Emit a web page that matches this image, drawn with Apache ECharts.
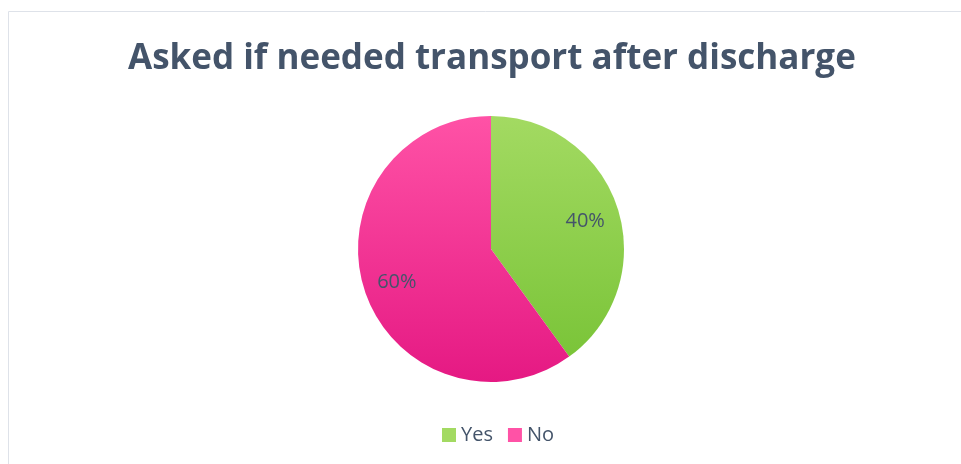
<!DOCTYPE html>
<html>
<head>
<meta charset="utf-8">
<script src="https://cdn.jsdelivr.net/npm/echarts@6/dist/echarts.min.js"></script>
<style>
  html, body { margin: 0; padding: 0; background: #fff; }
  #chart { width: 961px; height: 464px; }
</style>
</head>
<body>
<div id="chart"></div>
<script>
    var categories = ['Yes', 'No'];
    var shares = [40, 60];

    var textColor = '#44546a';
    // top -> bottom shades for each slice
    var shades = [
        ['#a3da62', '#76c234'],
        ['#ff52a6', '#e51983']
    ];

    var cx = 491, cy = 249, r = 133;

    var pieData = categories.map(function (name, i) {
        return {
            name: name,
            value: shares[i],
            itemStyle: {
                color: {
                    type: 'linear',
                    global: true,
                    x: 0, y: cy - r, x2: 0, y2: cy + r,
                    colorStops: [
                        { offset: 0, color: shades[i][0] },
                        { offset: 1, color: shades[i][1] }
                    ]
                }
            }
        };
    });

    var labelData = categories.map(function (name, i) {
        return { name: name, value: shares[i] };
    });

    var chart = echarts.init(document.getElementById('chart'));
    chart.setOption({
        animation: false,
        title: {
            text: 'Asked if needed transport after discharge',
            left: 123,
            top: 37,
            textStyle: {
                fontFamily: 'Open Sans',
                fontWeight: 'bold',
                fontSize: 35,
                color: textColor
            }
        },
        legend: {
            top: 420,
            left: 437,
            itemWidth: 14,
            itemHeight: 14,
            itemGap: 15,
            icon: 'rect',
            data: categories,
            textStyle: {
                fontFamily: 'Open Sans',
                fontSize: 20,
                color: textColor
            }
        },
        graphic: [{
            type: 'rect',
            shape: { x: 8.5, y: 11.5, width: 980, height: 480 },
            style: { fill: 'none', stroke: '#dee2e9', lineWidth: 1 },
            silent: true
        }],
        series: [{
            name: 'Share',
            type: 'pie',
            center: [cx, cy],
            radius: [0, r],
            startAngle: 90,
            clockwise: true,
            label: { show: false },
            labelLine: { show: false },
            emphasis: { disabled: true },
            data: pieData
        }, {
            // invisible ring used only to place the percent labels further out
            name: 'Labels',
            type: 'pie',
            center: [cx, cy + 3],
            radius: [0, 192],
            startAngle: 90,
            clockwise: true,
            silent: true,
            z: 3,
            itemStyle: { color: 'transparent' },
            label: {
                show: true,
                position: 'inside',
                formatter: '{c}%',
                fontFamily: 'Open Sans',
                fontSize: 20,
                color: textColor
            },
            labelLine: { show: false },
            emphasis: { disabled: true },
            data: labelData
        }]
    });
</script>
</body>
</html>
